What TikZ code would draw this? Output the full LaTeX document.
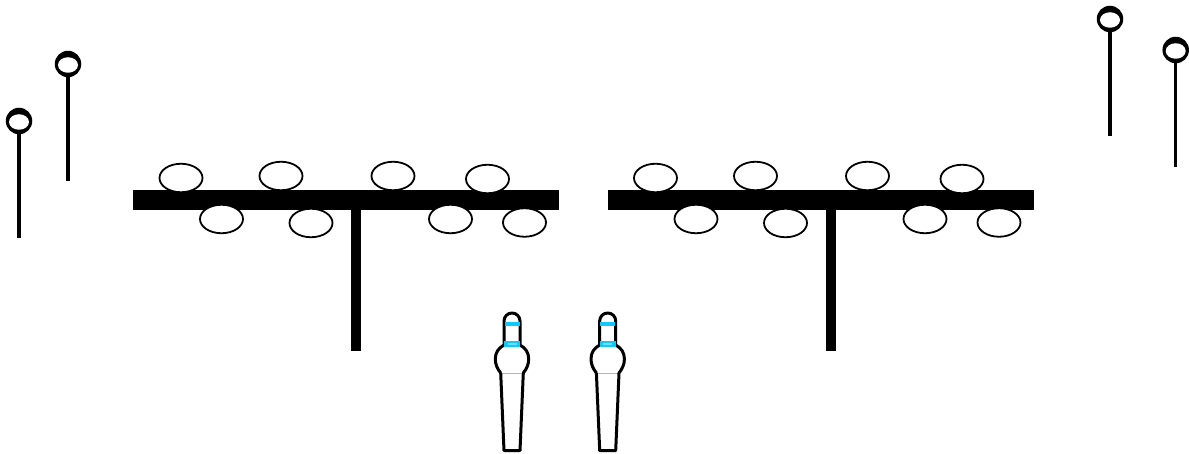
\documentclass[tikz,border=0pt]{standalone}
\usetikzlibrary{shapes.geometric}
\tikzset{
  disc/.style={ellipse,draw=black,fill=white,line width=1.8pt,minimum width=43pt,minimum height=28.5pt,inner sep=0pt},
  pinring/.style={ellipse,fill=black,minimum width=26.5pt,minimum height=26.5pt,inner sep=0pt},
  pinhole/.style={ellipse,fill=white,minimum width=20pt,minimum height=15.5pt,inner sep=0pt},
  pinstem/.style={line width=3.2pt,black},
  outline/.style={line width=3pt,black,line join=round},
}
\definecolor{bandblue}{HTML}{10C8FF}
\definecolor{bandlight}{HTML}{70DDFF}
\newcommand{\standrack}[2]{%
  \begin{scope}[xshift=#1pt]
    \fill[black] (133,190) rectangle (559,210);
    \fill[black] (351,210) rectangle (361,351);
    \node[disc] (#2a) at (181,178) {};
    \node[disc] (#2b) at (281,176) {};
    \node[disc] (#2c) at (393,176) {};
    \node[disc] (#2d) at (487.5,179) {};
    \node[disc] (#2e) at (221.5,219) {};
    \node[disc] (#2f) at (311,223) {};
    \node[disc] (#2g) at (450.5,219) {};
    \node[disc] (#2h) at (524.5,222.5) {};
  \end{scope}}
\newcommand{\standpin}[4]{%
  \node[pinring] (#4r) at (#1,#2) {};
  \node[pinhole] (#4h) at (#1,#2+1) {};
  \coordinate (#4e) at (#1,#3);
  \draw[pinstem] (#4r.south) -- (#4e);}
\newcommand{\personfig}[1]{%
  \begin{scope}[xshift=#1pt]
    \draw[gray!60,line width=1pt] (500.5,373) -- (523.5,373);
    \draw[outline]
      (500.7,373) -- (504,450.7) -- (520,450.7) -- (523.3,373)
      .. controls (526.5,369) and (528.7,364.5) .. (528.7,359)
      .. controls (528.7,352.5) and (525.5,348) .. (520,345)
      -- (520,321) arc[start angle=0,end angle=-180,radius=8] -- (504,345)
      .. controls (498.5,348) and (495.3,352.5) .. (495.3,359)
      .. controls (495.3,364.5) and (497.5,369) .. (500.7,373);
    \fill[bandblue] (504.5,322.5) rectangle (519.5,326.3);
    \fill[bandblue] (504,341) rectangle (520,346.7);
    \fill[bandlight] (507.5,343) rectangle (516.5,345);
  \end{scope}}
\begin{document}
\begin{tikzpicture}[x=1pt,y=-1pt]
  \useasboundingbox (0,0) rectangle (1189,454);
  \standrack{0}{l}
  \standrack{474.5}{r}
  \standpin{68}{64}{181}{p}
  \standpin{19}{121}{238}{q}
  \standpin{1110}{19}{136}{s}
  \standpin{1175.7}{50}{167}{t}
  \personfig{0}
  \personfig{95.7}
\end{tikzpicture}
\end{document}
